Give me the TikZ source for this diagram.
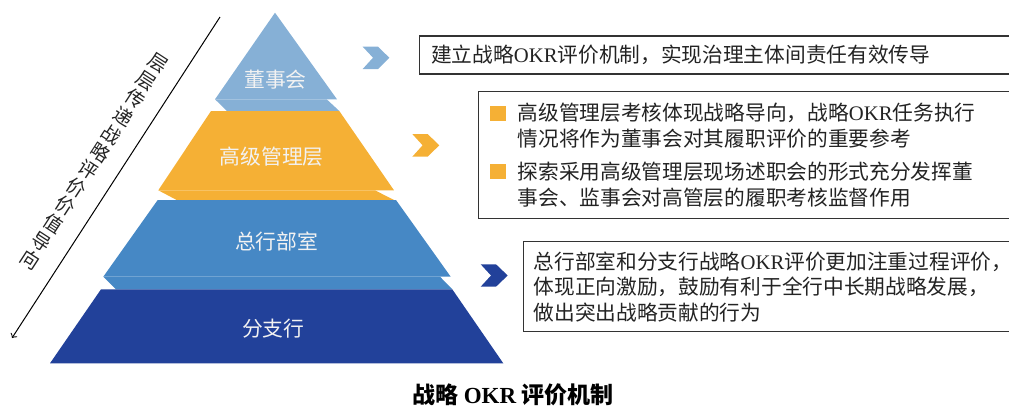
\documentclass[tikz,border=0pt]{standalone}
\usepackage{fontspec}
\setmainfont{Noto Sans CJK SC}
\newfontfamily\latinfont{Liberation Serif}
\begin{document}
\begin{tikzpicture}[x=0.5pt,y=-0.5pt,
    layerlabel/.style={text=white!95!black, font=\fontsize{10.4}{12}\selectfont},
    boxline/.style={draw=black!80, line width=0.6pt},
    goaltext/.style={anchor=west, align=left, inner sep=0pt, text=textcolor, font=\fontsize{10.35}{12.7}\selectfont},
    flowtext/.style={rotate=-33, align=center, inner sep=0pt, text=textcolor, font=\fontsize{9.5}{10.7}\selectfont}]
    % Define colors
    \definecolor{boardcolor}{RGB}{134,176,214}
    \definecolor{seniorcolor}{RGB}{245,176,53}
    \definecolor{deptcolor}{RGB}{70,136,197}
    \definecolor{branchcolor}{RGB}{34,65,154}
    \definecolor{textcolor}{RGB}{35,35,35}

    \useasboundingbox (0,0) rectangle (1009,408);

    % Pyramid layers
    \fill[boardcolor] (275,12.7) -- (337,99.3) -- (215,99.3) -- cycle;
    \fill[boardcolor] (215,99.3) -- (326.7,99.3) -- (339.3,111) -- (227,111) -- cycle;
    \fill[seniorcolor] (211,111) -- (339.3,111) -- (394,190.3) -- (158.3,190.3) -- cycle;
    \fill[seniorcolor] (158.3,190.3) -- (375,190.3) -- (394,200) -- (176.7,200) -- cycle;
    \fill[deptcolor] (157.7,200) -- (396,200) -- (450.7,276.7) -- (103.3,276.7) -- cycle;
    \fill[deptcolor] (103.3,276.7) -- (440,276.7) -- (452.3,289.3) -- (116,289.3) -- cycle;
    \fill[branchcolor] (101,289.3) -- (452.3,289.3) -- (503.3,363.3) -- (50,363.3) -- cycle;

    % Layer labels
    \node (board) [layerlabel] at (275.5,80) {董事会};
    \node (senior) [layerlabel] at (271.7,156.7) {高级管理层};
    \node (hqdept) [layerlabel] at (276.7,241.7) {总行部室};
    \node (branch) [layerlabel] at (273.3,328.3) {分支行};

    % Chevrons
    \fill[boardcolor] (362.7,46.7) -- ++(15.3,0) -- ++(11.3,11) -- ++(-11.3,11.3) -- ++(-15.3,0) -- ++(10.3,-11.3) -- cycle;
    \fill[seniorcolor] (412.3,134) -- ++(15.3,0) -- ++(11.7,11.3) -- ++(-11.7,11.4) -- ++(-15.3,0) -- ++(10.3,-11.4) -- cycle;
    \fill[branchcolor] (480.7,264.3) -- ++(15.3,0) -- ++(11.7,11.2) -- ++(-11.7,11.2) -- ++(-15.3,0) -- ++(10.3,-11.2) -- cycle;

    % Text boxes
    \draw[boxline] (419.3,36) rectangle (1020,74);
    \draw[boxline] (478.3,91.7) rectangle (1020,218.7);
    \draw[boxline] (523.3,241.7) rectangle (1020,331.7);
    \node (goalboard) [goaltext] at (430.7,55)
        {建立战略{\latinfont OKR}评价机制，实现治理主体间责任有效传导};
    \node (goalsenior) [goaltext] at (517.3,155.2)
        {高级管理层考核体现战略导向，战略{\latinfont OKR}任务执行\\
         情况将作为董事会对其履职评价的重要参考\\[4.2pt]
         探索采用高级管理层现场述职会的形式充分发挥董\\
         事会、监事会对高管层的履职考核监督作用};
    \node (goalbranch) [goaltext] at (533.3,286.7)
        {总行部室和分支行战略{\latinfont OKR}评价更加注重过程评价，\\
         体现正向激励，鼓励有利于全行中长期战略发展，\\
         做出突出战略贡献的行为};

    % Bullets
    \fill[seniorcolor] (490,106) rectangle (506,121);
    \fill[seniorcolor] (490,164.2) rectangle (506,179.2);

    % Flow arrow
    \coordinate (flowtop) at (220,17);
    \coordinate (flowend) at (12,338);
    \draw[line width=0.5pt, ->] (flowtop) -- (flowend);
    \node (flow) [flowtext] at (94,161.5) {层\\层\\传\\递\\战\\略\\评\\价\\价\\值\\导\\向};

    % Caption
    \node (caption) [text=black, font=\fontsize{11.5}{13}\selectfont\bfseries] at (513,395) {战略 {\latinfont OKR} 评价机制};
\end{tikzpicture}
\end{document}
